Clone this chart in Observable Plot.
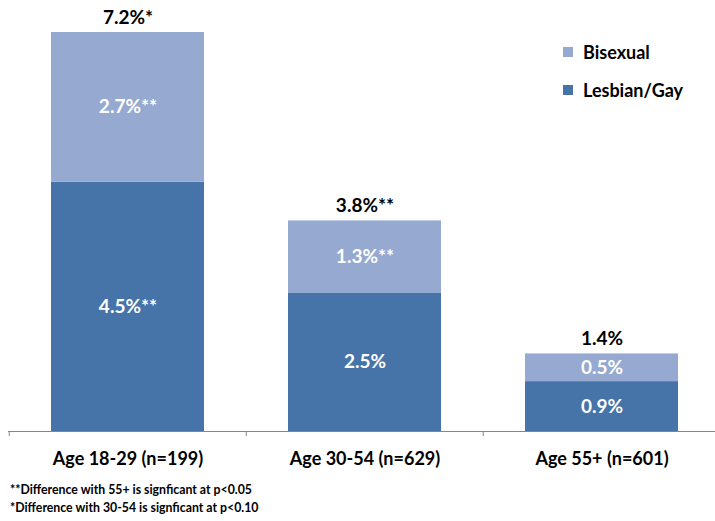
<!DOCTYPE html>
<html>
<head>
<meta charset="utf-8">
<script src="https://cdn.jsdelivr.net/npm/d3@7"></script>
<script src="https://cdn.jsdelivr.net/npm/@observablehq/plot@0.6"></script>
<style>
  body { margin: 0; background: #fff; font-family: Lato, "Open Sans", sans-serif; }
  #wrap { position: relative; width: 715px; height: 521px; }
  #legend { position: absolute; left: 563px; top: 33px; font-weight: bold; font-size: 18px; color: #000; }
  #legend .item { display: flex; align-items: center; height: 38px; }
  #legend .sw { width: 10px; height: 10px; margin-right: 10px; }
  #notes { position: absolute; left: 10px; top: 481px; font-weight: bold; font-size: 12.3px; line-height: 18px; color: #000; }
</style>
</head>
<body>
<div id="wrap">
  <div id="chart"></div>
  <div id="legend"></div>
  <div id="notes">
    <div>**Difference with 55+ is signficant at p&lt;0.05</div>
    <div>*Difference with 30-54 is signficant at p&lt;0.10</div>
  </div>
</div>
<script>
const categories = ["Age 18-29 (n=199)", "Age 30-54 (n=629)", "Age 55+ (n=601)"];
const seriesNames = ["Lesbian/Gay", "Bisexual"];
const lesbianGay = [4.5, 2.5, 0.9];
const bisexual = [2.7, 1.3, 0.5];
const lesbianGayLabels = ["4.5%**", "2.5%", "0.9%"];
const bisexualLabels = ["2.7%**", "1.3%**", "0.5%"];
const totals = [7.2, 3.8, 1.4];
const totalLabels = ["7.2%*", "3.8%**", "1.4%"];
const colors = ["#4673a8", "#95a9d1"];

const rows = [];
categories.forEach((c, i) => rows.push({cat: c, series: seriesNames[0], value: lesbianGay[i], label: lesbianGayLabels[i]}));
categories.forEach((c, i) => rows.push({cat: c, series: seriesNames[1], value: bisexual[i], label: bisexualLabels[i]}));
const totalRows = categories.map((c, i) => ({cat: c, value: totals[i], label: totalLabels[i]}));

const step = 237.5;
const chart = Plot.plot({
  width: 715,
  height: 470,
  marginTop: 32,
  marginBottom: 39,
  marginLeft: 8,
  marginRight: 0,
  style: {fontFamily: "Lato, 'Open Sans', sans-serif", background: "#fff"},
  x: {domain: categories, range: [8, 8 + 3 * step], paddingInner: 0.356, paddingOuter: 0.178, label: null},
  y: {domain: [0, 7.2], axis: null},
  color: {domain: seriesNames, range: colors},
  marks: [
    Plot.barY(rows, {x: "cat", y: "value", fill: "series", z: "series"}),
    Plot.text(rows, Plot.stackY({x: "cat", y: "value", z: "series", text: "label", fill: "white", fontSize: 19, fontWeight: "bold"})),
    Plot.text(totalRows, {x: "cat", y: "value", text: "label", dy: -15, fill: "black", fontSize: 19, fontWeight: "bold"}),
    Plot.ruleY([0], {stroke: "#868686", strokeWidth: 1}),
    Plot.ruleX(categories, {x: d => d, y1: 0, y2: -0.09, dx: -step / 2, stroke: "#868686"}),
    Plot.axisX({tickSize: 0, tickPadding: 21, fontSize: 18, fontWeight: "bold", fill: "black", label: null})
  ]
});
document.getElementById("chart").appendChild(chart);

const legend = document.getElementById("legend");
[1, 0].forEach(i => {
  const item = document.createElement("div");
  item.className = "item";
  item.innerHTML = `<span class="sw" style="background:${colors[i]}"></span><span>${seriesNames[i]}</span>`;
  legend.appendChild(item);
});
</script>
</body>
</html>
